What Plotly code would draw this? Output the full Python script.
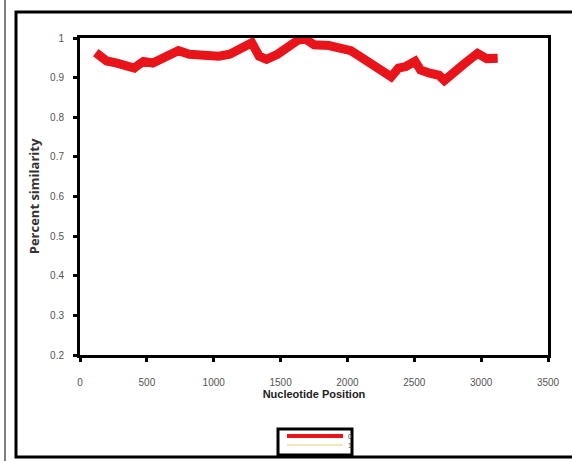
import plotly.graph_objects as go

# Sliding-window similarity along the alignment
position = [118, 160, 200, 269, 338, 406, 440, 475, 544, 626, 680, 736, 818,
            928, 1038, 1120, 1202, 1250, 1285, 1340, 1395, 1477, 1559, 1628,
            1683, 1751, 1861, 1944, 2026, 2108, 2191, 2259, 2327, 2382, 2437,
            2506, 2547, 2616, 2684, 2725, 2794, 2863, 2931, 2973, 3041, 3124]
similarity = [0.963, 0.955, 0.942, 0.937, 0.932, 0.924, 0.933, 0.941, 0.937,
              0.950, 0.958, 0.968, 0.959, 0.954, 0.954, 0.959, 0.974, 0.980,
              0.988, 0.954, 0.946, 0.959, 0.976, 0.994, 0.998, 0.983, 0.981,
              0.976, 0.968, 0.950, 0.932, 0.919, 0.902, 0.924, 0.928, 0.941,
              0.919, 0.911, 0.906, 0.893, 0.915, 0.932, 0.950, 0.961, 0.948,
              0.949]

series_names = ["0", "1"]
series_colors = ["#e8141a", "#f3e6b8"]
x_ticks = [0, 500, 1000, 1500, 2000, 2500, 3000, 3500]
y_ticks = [0.2, 0.3, 0.4, 0.5, 0.6, 0.7, 0.8, 0.9, 1]

W, H = 572, 461
L, R, T, B = 80, 24, 38, 106
pw, ph = W - L - R, H - T - B


def px_x(p):
    return (p - L) / pw


def px_y(p):
    return (H - B - p) / ph


fig = go.Figure()
fig.add_trace(go.Scatter(
    x=position, y=similarity, mode="lines", name=series_names[0],
    line=dict(color=series_colors[0], width=9),
    showlegend=False,
))

tick_font = dict(family="Liberation Sans, Arial, sans-serif", size=10, color="#555555")

fig.update_xaxes(
    range=[0, 3500], tickvals=x_ticks, ticktext=[str(v) for v in x_ticks],
    showline=True, linecolor="black", linewidth=3, mirror=True,
    ticks="outside", ticklen=4, tickwidth=3, tickcolor="black",
    showgrid=False, zeroline=False, tickfont=tick_font, ticklabelstandoff=12,
    title=dict(text="<b>Nucleotide Position</b>", standoff=3,
               font=dict(family="Liberation Sans, Arial, sans-serif", size=11, color="#222222")),
)
fig.update_yaxes(
    range=[0.2, 1], tickvals=y_ticks, ticktext=["0.2", "0.3", "0.4", "0.5", "0.6", "0.7", "0.8", "0.9", "1"],
    showline=True, linecolor="black", linewidth=3, mirror=True,
    ticks="outside", ticklen=4, tickwidth=3, tickcolor="black",
    showgrid=False, zeroline=False, tickfont=tick_font, ticklabelstandoff=7,
    title=dict(text="<b>Percent similarity</b>", standoff=8,
               font=dict(family="Open Sans, sans-serif", size=13, color="#333333")),
)

shapes = [
    # outer chart frame
    dict(type="rect", xref="paper", yref="paper",
         x0=px_x(16), x1=px_x(W + 4), y0=px_y(457), y1=px_y(12),
         line=dict(color="black", width=3), layer="below"),
    # thin page edge on the left
    dict(type="line", xref="paper", yref="paper",
         x0=px_x(5), x1=px_x(5), y0=px_y(H + 2), y1=px_y(-2),
         line=dict(color="black", width=1)),
    # legend box
    dict(type="rect", xref="paper", yref="paper",
         x0=px_x(278), x1=px_x(352), y0=px_y(455), y1=px_y(429),
         line=dict(color="black", width=3), fillcolor="white"),
]
annotations = []
legend_rows = [436, 445]
for name, color, row in zip(series_names, series_colors, legend_rows):
    shapes.append(dict(type="line", xref="paper", yref="paper",
                       x0=px_x(287), x1=px_x(343), y0=px_y(row), y1=px_y(row),
                       line=dict(color=color, width=4 if name == "0" else 2)))
    annotations.append(dict(xref="paper", yref="paper", x=px_x(346), y=px_y(row),
                            xanchor="left", yanchor="middle", showarrow=False,
                            text=name,
                            font=dict(family="Liberation Sans, Arial, sans-serif",
                                      size=7, color="#444444")))

fig.update_layout(
    width=W, height=H,
    margin=dict(l=L, r=R, t=T, b=B, autoexpand=False),
    paper_bgcolor="white", plot_bgcolor="white",
    shapes=shapes, annotations=annotations,
    showlegend=False,
)

fig.write_html("out.html")
